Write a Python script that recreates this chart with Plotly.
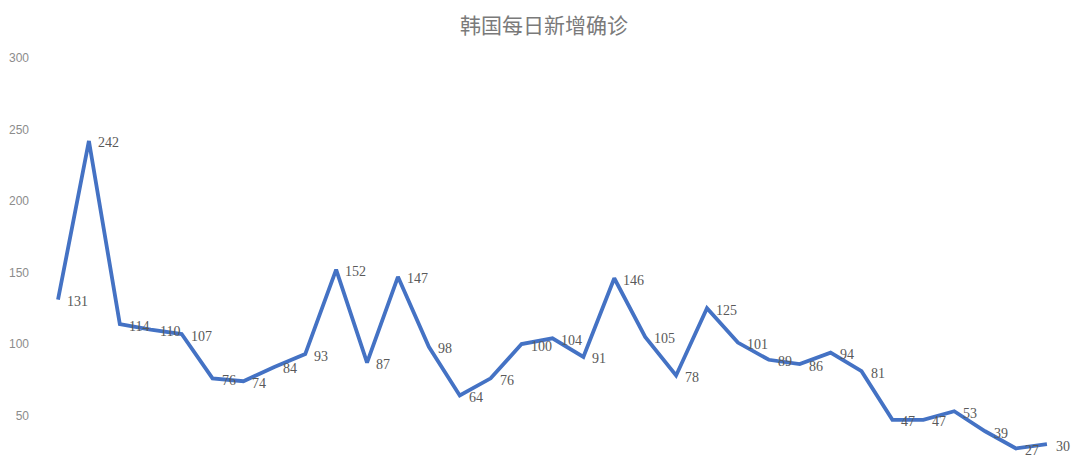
import plotly.graph_objects as go

days = list(range(33))
cases = [131, 242, 114, 110, 107, 76, 74, 84, 93, 152, 87, 147, 98, 64, 76, 100,
         104, 91, 146, 105, 78, 125, 101, 89, 86, 94, 81, 47, 47, 53, 39, 27, 30]
y_ticks = [50, 100, 150, 200, 250, 300]
title_text = "韩国每日新增确诊"

# page body has an 8px margin, so the figure is sized to fill the rest
W, H = 1072, 461
ml = 26

fig = go.Figure()
fig.add_trace(go.Scatter(
    x=days, y=cases, mode="lines",
    line=dict(color="#4472C4", width=3.8),
    hoverinfo="skip",
))

annotations = [
    dict(x=d, y=v, xref="x", yref="y", text=str(v), showarrow=False,
         xanchor="left", yanchor="middle", xshift=7, yshift=-2,
         font=dict(family="Liberation Serif, DejaVu Serif, serif", size=14, color="#595959"))
    for d, v in zip(days, cases)
]

fig.update_layout(
    width=W, height=H,
    margin=dict(l=ml, r=0, t=0, b=0),
    paper_bgcolor="white", plot_bgcolor="white",
    showlegend=False,
    title=dict(text=title_text, x=0.5, xanchor="center", y=1 - 18 / H, yanchor="middle",
               font=dict(family="Noto Sans CJK SC", size=21, color="#7a7a7a")),
    xaxis=dict(range=[-0.777, 33.07], showticklabels=False, showgrid=False,
               zeroline=False, showline=False, ticks=""),
    yaxis=dict(range=[12.6, 335.0], tickvals=y_ticks, showgrid=False,
               zeroline=False, showline=False, ticks="", automargin=False,
               tickfont=dict(family="Liberation Sans, Arial", size=12, color="#8c8c8c"),
               ticklabelstandoff=4),
    annotations=annotations,
    shapes=[dict(type="line", xref="paper", yref="paper",
                 x0=0.9985, x1=0.9985, y0=0, y1=1,
                 line=dict(color="#e3e3e3", width=2))],
)

fig.write_html("out.html")
